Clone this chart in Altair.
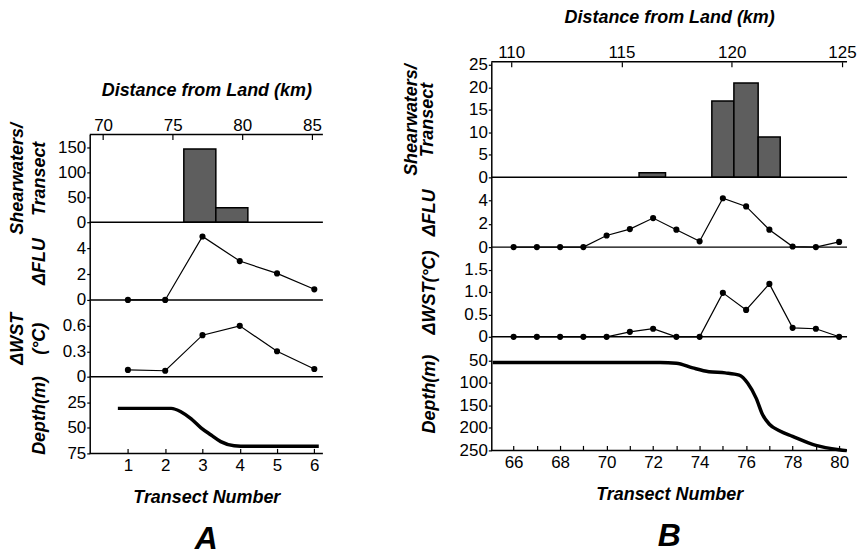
import altair as alt
import pandas as pd

FONT = "Liberation Sans"
BAR_FILL = "#5e5e5e"

# ---------------- Panel A ----------------
a_transect = [1, 2, 3, 4, 5, 6]
a_flu = [0.0, 0.0, 4.9, 3.0, 2.05, 0.82]
a_wst = [0.08, 0.07, 0.49, 0.6, 0.3, 0.09]
a_bar_km_start = [75.8, 78.1]
a_bar_km_end = [78.1, 80.4]
a_shearwaters = [147, 29]
a_depth_transect = [0.73, 1.5, 2.16, 2.43, 2.69, 2.96, 3.23, 3.49, 3.85, 4.2, 5.0, 6.12]
a_depth_m = [31, 31, 31, 34.5, 41, 50, 57, 63.5, 67.5, 68, 68, 68]

# ---------------- Panel B ----------------
b_transect = list(range(66, 81))
b_flu = [0, 0, 0, 0, 1.0, 1.55, 2.5, 1.5, 0.5, 4.2, 3.5, 1.5, 0.05, 0.0, 0.45]
b_wst = [0, 0, 0, 0, 0, 0.11, 0.18, 0, 0, 0.98, 0.6, 1.18, 0.2, 0.18, 0]
b_bar_km_start = [115.8, 119.1, 120.1, 121.2]
b_bar_km_end = [117.0, 120.1, 121.2, 122.2]
b_shearwaters = [1, 17, 21, 9]
b_depth_transect = [65.1, 68, 72.3, 73.0, 73.7, 74.4, 75.1, 75.7, 76.07, 76.43,
                    76.71, 77.0, 77.43, 78.0, 79.0, 80.0, 80.33]
b_depth_m = [55, 55, 55, 56.5, 67, 75.5, 78, 83, 101, 134, 171, 192, 206.5, 219,
             239, 248.5, 250.5]

# tick labels
a_km_ticks = [70, 75, 80, 85]
b_km_ticks = [110, 115, 120, 125]
a_transect_ticks = [1, 2, 3, 4, 5, 6]
b_transect_ticks = list(range(66, 81))


def y_axis(values, title, title_x, line_h=20, label_expr=None):
    kw = dict(values=values, title=title, titleX=title_x, titleBaseline="bottom",
              titleAngle=270, titleLineHeight=line_h, tickSize=3, labelPadding=1,
              labelOverlap=False)
    if label_expr:
        kw["labelExpr"] = label_expr
    return alt.Axis(**kw)


def hrule(yval, ax, sc, width=1.5):
    return alt.Chart(pd.DataFrame({"z": [0]})).mark_rule(
        color="black", strokeWidth=width).encode(y=alt.YDatum(yval, axis=ax, scale=sc))


def bar_plot(starts, ends, counts, km_dom, km_ticks, y_dom, y_vals, w, h, title_x, line_h):
    df = pd.DataFrame({"km0": starts, "km1": ends, "n": counts})
    ax = y_axis(y_vals, ["Shearwaters/", "Transect"], title_x, line_h)
    sc = alt.Scale(domain=y_dom, nice=False)
    bars = alt.Chart(df).mark_rect(fill=BAR_FILL, stroke="black", strokeWidth=1.5).encode(
        x=alt.X("km0:Q", scale=alt.Scale(domain=km_dom, nice=False, zero=False),
                axis=alt.Axis(orient="top", values=km_ticks, offset=-5, domain=False,
                              tickSize=5, labelPadding=0, labelFlush=False,
                              labelOverlap=False,
                              title="Distance from Land (km)", titlePadding=17)),
        x2="km1:Q",
        y=alt.Y("n:Q", scale=sc, axis=ax),
        y2=alt.datum(0),
    )
    return alt.layer(bars, hrule(0, ax, sc), hrule(y_dom[1], ax, sc)).properties(
        width=w, height=h)


def line_plot(xs, ys, x_dom, y_dom, y_vals, w, h, title, title_x, line_h=20,
              label_expr=None):
    df = pd.DataFrame({"t": xs, "v": ys})
    ax = y_axis(y_vals, title, title_x, line_h, label_expr)
    sc = alt.Scale(domain=y_dom, nice=False)
    x = alt.X("t:Q", scale=alt.Scale(domain=x_dom, nice=False, zero=False), axis=None)
    y = alt.Y("v:Q", scale=sc, axis=ax)
    base = alt.Chart(df)
    line = base.mark_line(color="black", strokeWidth=1.2).encode(x=x, y=y)
    pts = base.mark_circle(color="black", size=38, opacity=1).encode(x=x, y=y)
    return alt.layer(hrule(0, ax, sc), line, pts).properties(width=w, height=h)


def depth_plot(xs, ys, x_dom, x_ticks, label_expr, y_dom, y_vals, w, h, title_x, letter):
    df = pd.DataFrame({"t": xs, "d": ys})
    ax = y_axis(y_vals, "Depth(m)", title_x)
    sc = alt.Scale(domain=y_dom, reverse=True, nice=False, zero=False)
    line = alt.Chart(df).mark_line(color="black", strokeWidth=3.5,
                                   interpolate="monotone").encode(
        x=alt.X("t:Q", scale=alt.Scale(domain=x_dom, nice=False, zero=False),
                axis=alt.Axis(orient="bottom", values=x_ticks, labelExpr=label_expr,
                              offset=-5, domain=False, tickSize=5, labelPadding=4,
                              labelFlush=False, labelOverlap=False,
                              title="Transect Number", titlePadding=15)),
        y=alt.Y("d:Q", scale=sc, axis=ax),
    )
    return alt.layer(line, hrule(y_dom[1], ax, sc)).properties(
        width=w, height=h,
        title=alt.TitleParams(letter, orient="bottom", anchor="middle", frame="group",
                              font=FONT, fontSize=32, fontStyle="italic",
                              fontWeight="bold", color="black", offset=18))


WST_EXPR = "datum.value == 0 ? '0' : format(datum.value, '.1f')"

# ----- Panel A -----
AW = 234
a_tdom = [-0.025, 6.23]
spacer = alt.Chart(pd.DataFrame({"s": [0]})).mark_point(opacity=0).encode(
    x=alt.value(0), y=alt.value(0)).properties(width=AW, height=73)
a1 = bar_plot(a_bar_km_start, a_bar_km_end, a_shearwaters, [69.04, 85.79], a_km_ticks,
              [0, 176], [0, 50, 100, 150], AW, 88, -63.5, 22)
a2 = line_plot(a_transect, a_flu, a_tdom, [0, 6], [0, 2, 4], AW, 78, "ΔFLU", -41.5)
a3 = line_plot(a_transect, a_wst, a_tdom, [0, 0.906], [0, 0.3, 0.6], AW, 77,
               ["ΔWST", "(°C)"], -63.5, 22, WST_EXPR)
a4 = depth_plot(a_depth_transect, a_depth_m, a_tdom, a_transect_ticks, "datum.label",
                [0, 75], [25, 50, 75], AW, 77, -41.5, "A")
panelA = alt.vconcat(spacer, a1, a2, a3, a4, spacing=0, bounds="flush").resolve_scale(
    x="independent", y="independent")

# ----- Panel B -----
BW = 357
b_tdom = [65.04, 80.34]
b1 = bar_plot(b_bar_km_start, b_bar_km_end, b_shearwaters, [109.1, 125.23], b_km_ticks,
              [0, 25.7], [0, 5, 10, 15, 20, 25], BW, 116, -71.5, 17)
b2 = line_plot(b_transect, b_flu, b_tdom, [0, 6], [0, 2, 4], BW, 70, "ΔFLU", -52.5)
b3 = line_plot(b_transect, b_wst, b_tdom, [0, 2], [0, 0.5, 1.0, 1.5], BW, 90,
               "ΔWST(°C)", -52.5, 20, WST_EXPR)
b4 = depth_plot(b_depth_transect, b_depth_m, b_tdom, b_transect_ticks,
                "datum.value % 2 == 0 ? datum.label : ''",
                [-2, 250], [50, 100, 150, 200, 250], BW, 114, -52.5, "B")
panelB = alt.vconcat(b1, b2, b3, b4, spacing=0, bounds="flush").resolve_scale(
    x="independent", y="independent")

chart = alt.hconcat(panelA, panelB, spacing=76).resolve_scale(
    x="independent", y="independent"
).properties(
    padding={"left": 0, "top": 0, "right": 0, "bottom": 0}
).configure_view(strokeWidth=0).configure_axis(
    labelFont=FONT, labelFontSize=17, labelColor="black",
    titleFont=FONT, titleFontSize=18, titleFontStyle="italic", titleFontWeight="bold",
    titleColor="black", domainColor="black", tickColor="black", grid=False,
    domainWidth=1.5, tickWidth=1.2,
)

chart.save("out.html", embed_options={"renderer": "svg", "actions": False})
